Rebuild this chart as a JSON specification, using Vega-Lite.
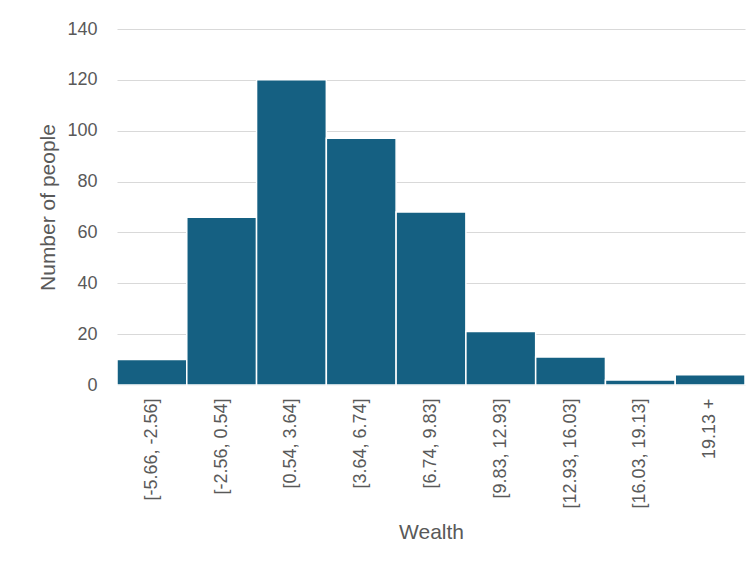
{
  "$schema": "https://vega.github.io/schema/vega-lite/v6.json",
  "autosize": {"type": "none"},
  "width": 628,
  "height": 356,
  "padding": {"left": 117, "top": 29, "right": 8, "bottom": 180},
  "background": "white",
  "config": {
    "view": {"stroke": null},
    "font": "Liberation Sans"
  },
  "data": {
    "values": [
      {"bin": "[-5.66, -2.56]", "count": 10},
      {"bin": "[-2.56, 0.54]", "count": 66},
      {"bin": "[0.54, 3.64]", "count": 120},
      {"bin": "[3.64, 6.74]", "count": 97},
      {"bin": "[6.74, 9.83]", "count": 68},
      {"bin": "[9.83, 12.93]", "count": 21},
      {"bin": "[12.93, 16.03]", "count": 11},
      {"bin": "[16.03, 19.13]", "count": 2},
      {"bin": "19.13 +", "count": 4}
    ]
  },
  "mark": {"type": "bar", "color": "#156082", "stroke": "white", "strokeWidth": 1.5},
  "encoding": {
    "x": {
      "field": "bin",
      "type": "nominal",
      "sort": null,
      "scale": {"paddingInner": 0, "paddingOuter": 0},
      "axis": {
        "title": "Wealth",
        "titleFontSize": 21,
        "titleFontWeight": "normal",
        "titleColor": "#595959",
        "titlePadding": 13,
        "labelAngle": -90,
        "labelFontSize": 18,
        "labelColor": "#595959",
        "labelPadding": 13,
        "domain": false,
        "ticks": false
      }
    },
    "y": {
      "field": "count",
      "type": "quantitative",
      "scale": {"domain": [0, 140]},
      "axis": {
        "title": "Number of people",
        "titleFontSize": 21,
        "titleFontWeight": "normal",
        "titleColor": "#595959",
        "titlePadding": 8,
        "values": [0, 20, 40, 60, 80, 100, 120, 140],
        "labelFontSize": 18,
        "labelColor": "#595959",
        "labelPadding": 20,
        "domain": false,
        "ticks": false,
        "gridColor": "#d9d9d9",
        "gridWidth": 1
      }
    }
  }
}
